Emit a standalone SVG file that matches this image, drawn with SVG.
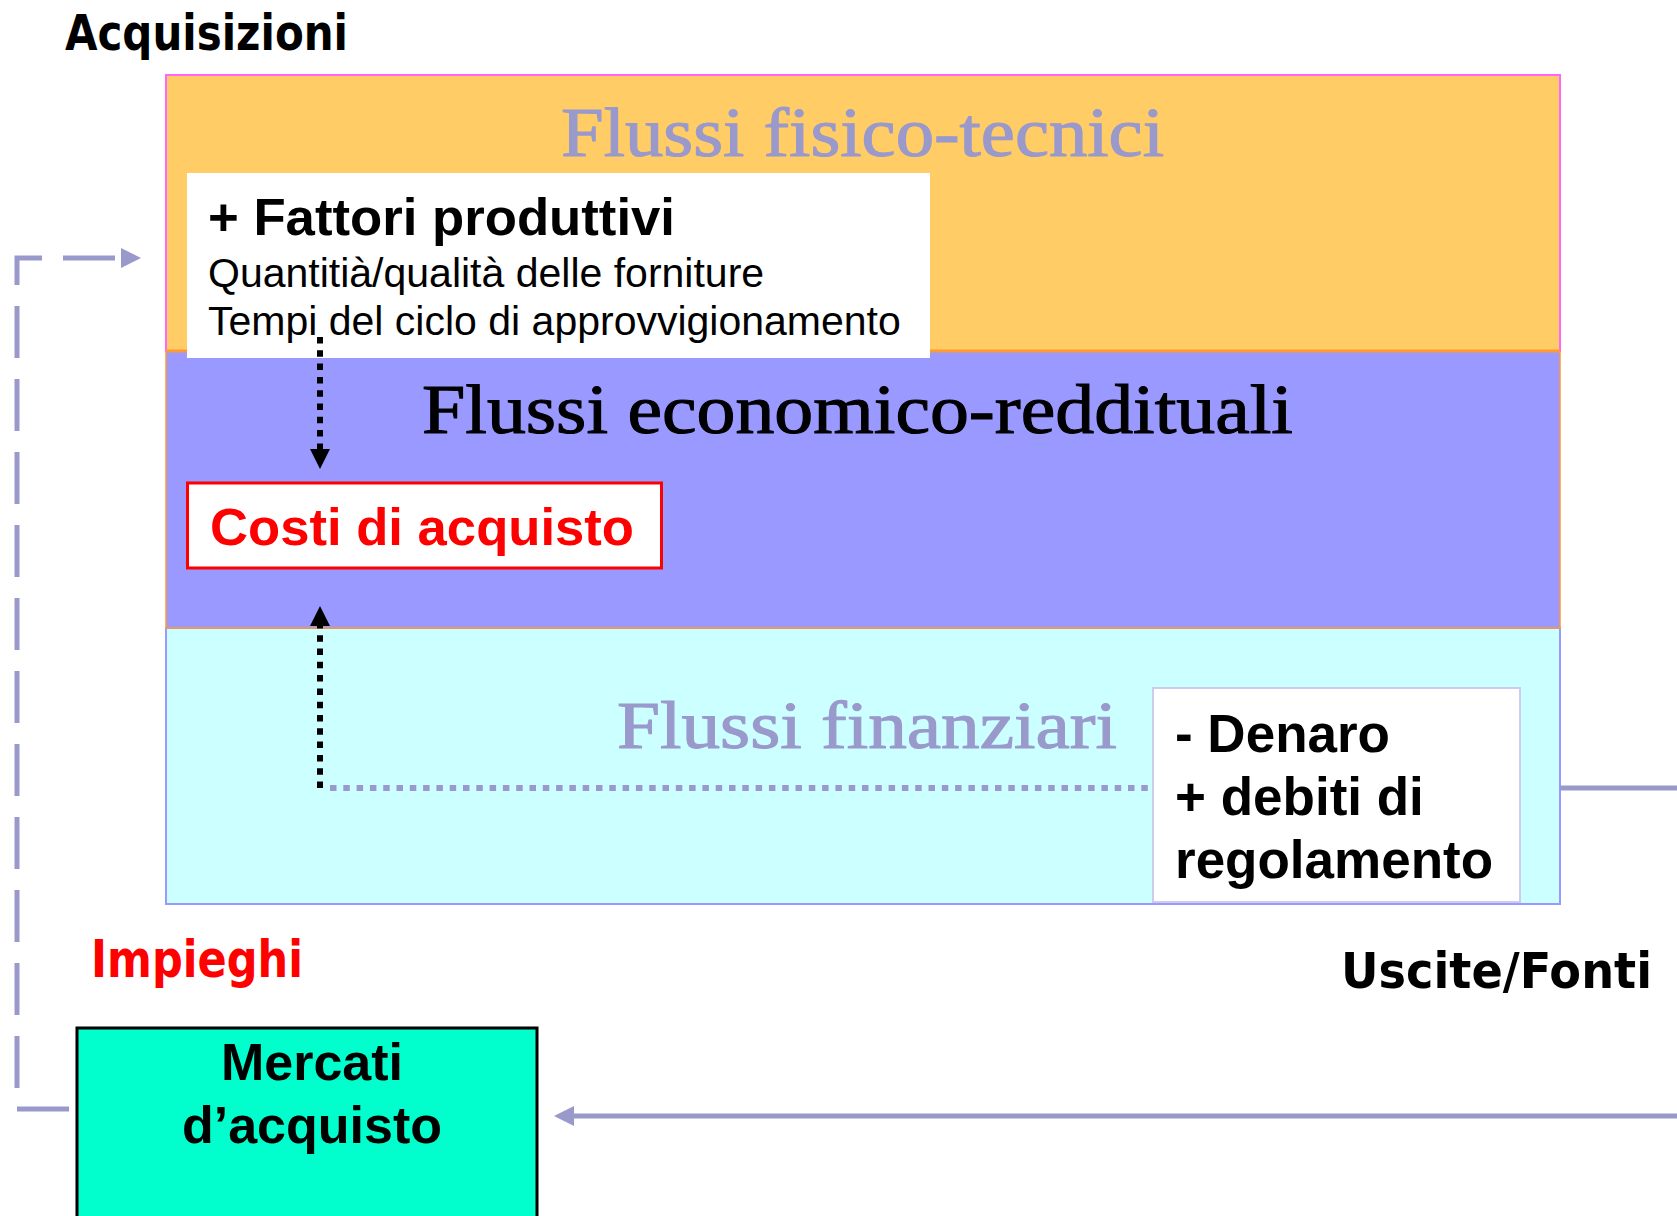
<svg xmlns="http://www.w3.org/2000/svg" width="1677" height="1216" viewBox="0 0 1677 1216">
  <style>
    .hand { font-family: "Comic Sans MS", "DejaVu Sans", sans-serif; font-weight: bold; }
    .serif { font-family: "Liberation Serif", "Times New Roman", serif; stroke-width: 1.1; }
    .sans { font-family: "Liberation Sans", Arial, sans-serif; }
    .b { font-weight: bold; }
    .lav { fill: #9999CC; stroke: #9999CC; }
  </style>
  <defs>
    <marker id="ah-black" markerUnits="userSpaceOnUse" markerWidth="20" markerHeight="20" refX="1" refY="10" orient="auto">
      <path d="M0,0 L20,10 L0,20 z" fill="#000"/>
    </marker>
    <marker id="ah-lav" markerUnits="userSpaceOnUse" markerWidth="20" markerHeight="20" refX="1" refY="10" orient="auto">
      <path d="M0,0 L20,10 L0,20 z" fill="#9999CC"/>
    </marker>
  </defs>
  <rect width="1677" height="1216" fill="#FFFFFF"/>

  <g id="band-finanziari">
    <rect x="166" y="628" width="1394" height="276" fill="#CCFFFF" stroke="#9999FF" stroke-width="2"/>
    <text class="serif lav" x="617" y="748" font-size="68" textLength="500" lengthAdjust="spacingAndGlyphs">Flussi finanziari</text>
  </g>
  <g id="band-economico">
    <rect x="166" y="351" width="1394" height="277" fill="#9999FF" stroke="#FF9933" stroke-width="1.5"/>
    <text class="serif" x="422" y="433" font-size="69" fill="#000" stroke="#000" textLength="871" lengthAdjust="spacingAndGlyphs">Flussi economico-reddituali</text>
  </g>
  <g id="band-fisico">
    <rect x="166" y="75" width="1394" height="276" fill="#FFCC66" stroke="#FF66FF" stroke-width="2"/>
    <line x1="166" y1="351" x2="1560" y2="351" stroke="#FF9933" stroke-width="3"/>
    <text class="serif lav" x="561" y="156" font-size="69" textLength="603" lengthAdjust="spacingAndGlyphs">Flussi fisico-tecnici</text>
  </g>

  <g id="acquisizioni-label">
    <text class="hand" x="65" y="50" font-size="50" fill="#000" textLength="283" lengthAdjust="spacingAndGlyphs">Acquisizioni</text>
  </g>

  <g id="fattori">
    <rect x="187" y="173" width="743" height="185" fill="#FFFFFF"/>
    <text class="sans b" x="208" y="235" font-size="52" fill="#000" textLength="467" lengthAdjust="spacingAndGlyphs">+ Fattori produttivi</text>
    <text class="sans" x="208" y="287" font-size="41" fill="#000">Quantitià/qualità delle forniture</text>
    <text class="sans" x="208" y="335" font-size="41" fill="#000">Tempi del ciclo di approvvigionamento</text>
  </g>

  <g id="costi">
    <rect x="187.5" y="483" width="474" height="85" fill="#FFFFFF" stroke="#FF0000" stroke-width="3"/>
    <text class="sans b" x="210" y="545" font-size="52" fill="#FF0000" textLength="424" lengthAdjust="spacingAndGlyphs">Costi di acquisto</text>
  </g>

  <g id="denaro">
    <rect x="1153" y="688" width="367" height="214" fill="#FFFFFF" stroke="#CCCCEE" stroke-width="2"/>
    <text class="sans b" x="1175" y="752" font-size="53" fill="#000">- Denaro</text>
    <text class="sans b" x="1175" y="815" font-size="53" fill="#000">+ debiti di</text>
    <text class="sans b" x="1175" y="878" font-size="53" fill="#000">regolamento</text>
  </g>

  <g id="impieghi-label">
    <text class="hand" x="91" y="977" font-size="52" fill="#FF0000" textLength="212" lengthAdjust="spacingAndGlyphs">Impieghi</text>
  </g>

  <g id="uscite-label">
    <text class="hand" x="1341" y="988" font-size="50" fill="#000" textLength="311" lengthAdjust="spacingAndGlyphs">Uscite/Fonti</text>
  </g>

  <g id="mercati">
    <rect x="77" y="1028" width="460" height="200" fill="#00FFCC" stroke="#000" stroke-width="3"/>
    <text class="sans b" x="312" y="1080" font-size="52" fill="#000" text-anchor="middle">Mercati</text>
    <text class="sans b" x="312" y="1143" font-size="52" fill="#000" text-anchor="middle">d’acquisto</text>
  </g>

  <g id="connectors" fill="none">
    <path d="M320,337 V450" stroke="#000" stroke-width="6" stroke-dasharray="6.5 6.8" marker-end="url(#ah-black)"/>
    <path d="M320,788 V625" stroke="#000" stroke-width="6" stroke-dasharray="6.5 6.8" marker-end="url(#ah-black)"/>
    <path d="M330,788 H1153" stroke="#9999CC" stroke-width="6" stroke-dasharray="6.5 6.8"/>
    <path d="M1560,788 H1677" stroke="#9999CC" stroke-width="5"/>
    <path d="M1677,1116 H573" stroke="#9999CC" stroke-width="5" marker-end="url(#ah-lav)"/>
    <path d="M69,1109 H17 V258 H122" stroke="#9999CC" stroke-width="5" stroke-dasharray="52 21" marker-end="url(#ah-lav)"/>
  </g>
</svg>
